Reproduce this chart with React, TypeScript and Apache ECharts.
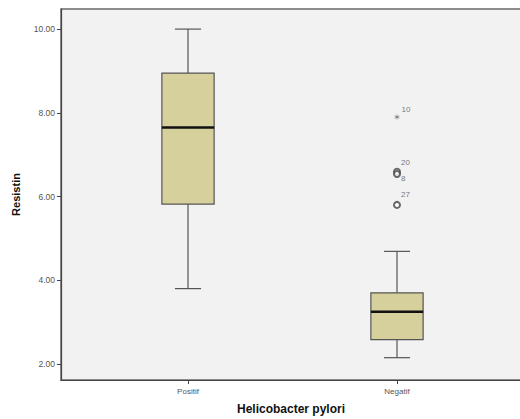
import React, { useEffect, useRef } from "react";
import * as echarts from "echarts";

const categories = ["Positif", "Negatif"];
// [min, Q1, median, Q3, max]
const boxStats = [
  [3.8, 5.82, 7.65, 8.95, 10.0],
  [2.15, 2.58, 3.25, 3.7, 4.69],
];
const yTicks = [2, 4, 6, 8, 10];
const outlierCases = ["20", "8", "27"];
const outlierValues = [6.59, 6.54, 5.8];
const extremeCases = ["10"];
const extremeValues = [7.9];

const FONT = "Liberation Sans, Arial, sans-serif";
const Y_MIN = 1.617;
const Y_MAX = 10.48;

export default function App() {
  const ref = useRef<HTMLDivElement>(null);
  useEffect(() => {
    if (!ref.current) return;
    const chart = echarts.init(ref.current, null, { renderer: "svg" });
    const labelPos: Record<string, number[]> = {
      "20": [8, -9],
      "8": [8, 5],
      "27": [8, -10],
      "10": [7, -9],
    };
    chart.setOption({
      animation: false,
      backgroundColor: "#ffffff",
      grid: [
        {
          left: 61,
          right: -1,
          top: 9,
          bottom: 39,
          show: true,
          backgroundColor: "#f2f2f2",
          borderColor: "#6a6a6a",
          borderWidth: 1.5,
          containLabel: false,
          outerBoundsMode: "none",
        },
        { left: 83.5, right: 18.5, top: 9, bottom: 39, containLabel: false, outerBoundsMode: "none" },
      ],
      xAxis: [
        {
          gridIndex: 0,
          type: "value",
          min: 0,
          max: 1,
          axisLine: { show: true, lineStyle: { color: "#444", width: 1.2 } },
          axisTick: { show: false },
          axisLabel: { show: false },
          splitLine: { show: false },
          name: "Helicobacter pylori",
          nameLocation: "middle",
          nameGap: 23,
          nameTextStyle: { fontFamily: FONT, fontSize: 12, fontWeight: "bold", color: "#111" },
        },
        {
          gridIndex: 1,
          type: "category",
          data: categories,
          axisLine: { show: false },
          axisTick: { show: true, alignWithLabel: true, length: 4, lineStyle: { color: "#444" } },
          axisLabel: { fontFamily: FONT, fontSize: 8, color: "#555555", margin: 7 },
        },
      ],
      yAxis: [
        {
          gridIndex: 0,
          type: "value",
          min: Y_MIN,
          max: Y_MAX,
          axisLine: { show: true, lineStyle: { color: "#444", width: 1.2 } },
          axisTick: { show: true, length: 4, customValues: yTicks, lineStyle: { color: "#444" } },
          axisLabel: {
            customValues: yTicks,
            formatter: (v: number) => v.toFixed(2),
            fontFamily: FONT,
            fontSize: 8.5,
            color: "#555555",
            margin: 6,
          },
          splitLine: { show: false },
          name: "Resistin",
          nameLocation: "middle",
          nameGap: 40,
          nameRotate: 90,
          nameTextStyle: { fontFamily: FONT, fontSize: 11, fontWeight: "bold", color: "#111" },
        },
        { gridIndex: 1, type: "value", min: Y_MIN, max: Y_MAX, show: false },
      ],
      series: [
        {
          type: "custom",
          xAxisIndex: 1,
          yAxisIndex: 1,
          data: boxStats.map((s, i) => [i, ...s]),
          encode: { x: 0, y: [1, 2, 3, 4, 5] },
          renderItem: (params: any, api: any) => {
            const c = api.value(0);
            const pMin = api.coord([c, api.value(1)]);
            const pQ1 = api.coord([c, api.value(2)]);
            const pMed = api.coord([c, api.value(3)]);
            const pQ3 = api.coord([c, api.value(4)]);
            const pMax = api.coord([c, api.value(5)]);
            const band = api.size([1, 0])[0];
            const hw = band * 0.125;
            const cx = pMed[0];
            const stroke = { stroke: "#555", lineWidth: 1.2 };
            return {
              type: "group",
              children: [
                { type: "line", shape: { x1: cx, y1: pQ3[1], x2: cx, y2: pMax[1] }, style: stroke },
                { type: "line", shape: { x1: cx, y1: pQ1[1], x2: cx, y2: pMin[1] }, style: stroke },
                { type: "line", shape: { x1: cx - hw / 2, y1: pMax[1], x2: cx + hw / 2, y2: pMax[1] }, style: stroke },
                { type: "line", shape: { x1: cx - hw / 2, y1: pMin[1], x2: cx + hw / 2, y2: pMin[1] }, style: stroke },
                {
                  type: "rect",
                  shape: { x: cx - hw, y: pQ3[1], width: hw * 2, height: pQ1[1] - pQ3[1] },
                  style: { fill: "#d6d09c", stroke: "#555", lineWidth: 1.2 },
                },
                {
                  type: "line",
                  shape: { x1: cx - hw, y1: pMed[1], x2: cx + hw, y2: pMed[1] },
                  style: { stroke: "#111", lineWidth: 2.5 },
                },
              ],
            };
          },
        },
        {
          type: "scatter",
          xAxisIndex: 1,
          yAxisIndex: 1,
          symbol: "emptyCircle",
          symbolSize: 6,
          itemStyle: { color: "#444", borderColor: "#444", borderWidth: 1.4 },
          data: outlierValues.map((v, i) => ({
            value: [1, v],
            name: outlierCases[i],
            label: { position: labelPos[outlierCases[i]] },
          })),
          label: {
            show: true,
            formatter: (p: any) => p.name,
            fontFamily: FONT,
            fontSize: 8,
            color: "#555555",
          },
        },
        {
          type: "scatter",
          xAxisIndex: 1,
          yAxisIndex: 1,
          symbol:
            "path://M4.5,0 L5.5,0 L5.5,3.6 L8.6,1.8 L9.1,2.7 L6,4.5 L9.1,6.3 L8.6,7.2 L5.5,5.4 L5.5,9 L4.5,9 L4.5,5.4 L1.4,7.2 L0.9,6.3 L4,4.5 L0.9,2.7 L1.4,1.8 L4.5,3.6 Z",
          symbolSize: 5,
          itemStyle: { color: "#444" },
          data: extremeValues.map((v, i) => ({
            value: [1, v],
            name: extremeCases[i],
            label: { position: labelPos[extremeCases[i]] },
          })),
          label: {
            show: true,
            formatter: (p: any) => p.name,
            fontFamily: FONT,
            fontSize: 8,
            color: "#555555",
          },
        },
      ],
    });
    return () => chart.dispose();
  }, []);
  return <div ref={ref} style={{ width: 520, height: 419, position: "fixed", left: 0, top: 0 }} />;
}
